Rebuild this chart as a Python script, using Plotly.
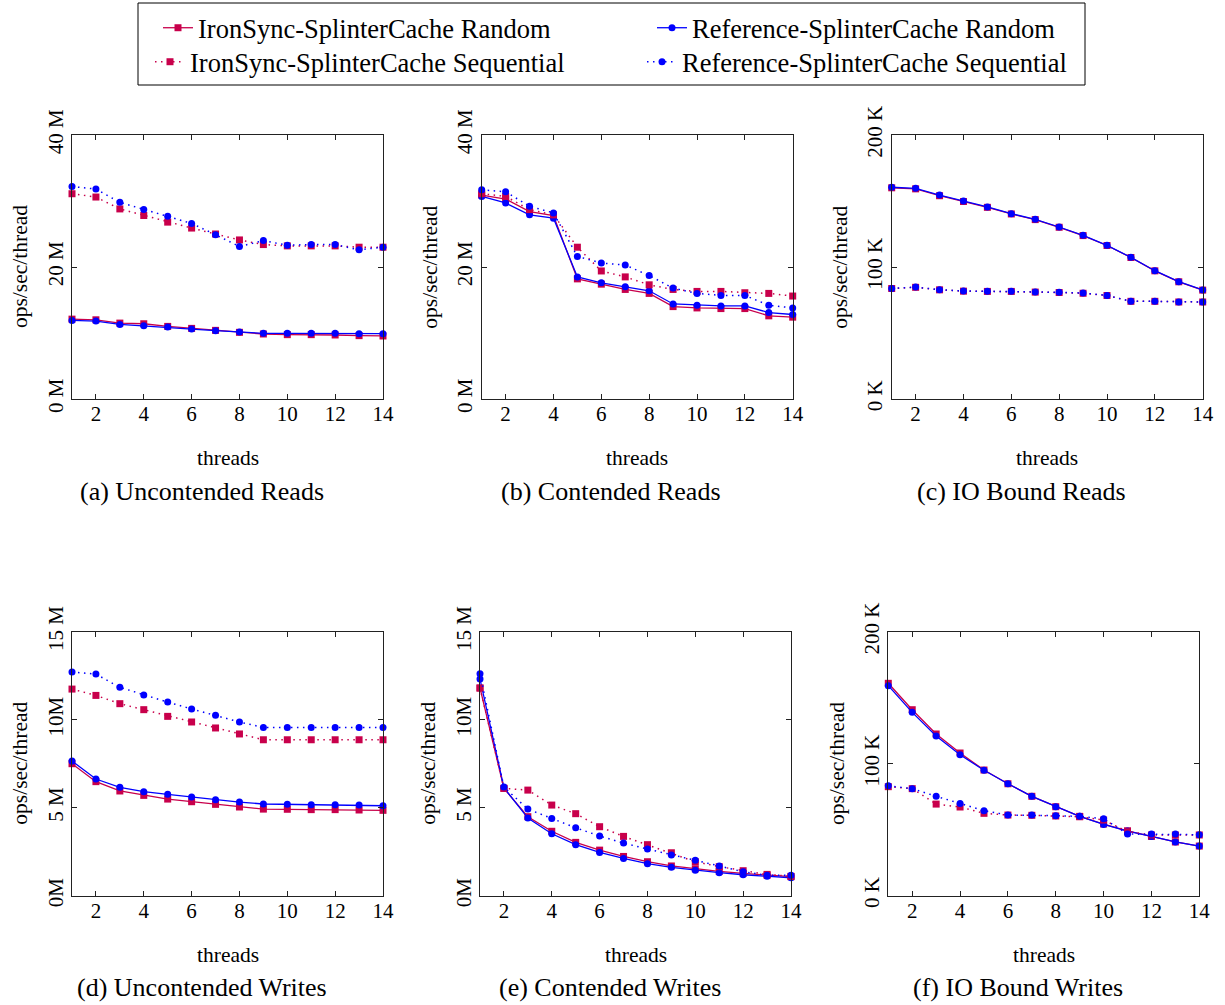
import plotly.graph_objects as go

# ---------------- data ----------------
threads = list(range(1, 15))

series_names = [
    "IronSync-SplinterCache Random",
    "Reference-SplinterCache Random",
    "IronSync-SplinterCache Sequential",
    "Reference-SplinterCache Sequential",
]

# (a) Uncontended Reads  (M ops/sec/thread)
a_iron_rand = [12.1, 12.0, 11.5, 11.4, 11.0, 10.7, 10.4, 10.1, 9.85, 9.75, 9.75, 9.7, 9.6, 9.55]
a_ref_rand = [11.9, 11.8, 11.3, 11.1, 10.9, 10.6, 10.35, 10.15, 9.95, 9.95, 9.95, 9.95, 9.9, 9.9]
a_iron_seq = [31.1, 30.6, 28.8, 27.8, 26.8, 25.9, 25.0, 24.1, 23.4, 23.2, 23.2, 23.2, 23.0, 23.0]
a_ref_seq = [32.2, 31.8, 29.8, 28.7, 27.7, 26.6, 24.9, 23.1, 24.0, 23.3, 23.4, 23.4, 22.6, 23.0]

# (b) Contended Reads  (M ops/sec/thread)
b_iron_rand = [30.9, 30.3, 28.4, 27.8, 18.2, 17.4, 16.6, 16.0, 14.0, 13.8, 13.7, 13.7, 12.6, 12.4]
b_ref_rand = [30.7, 29.7, 27.9, 27.4, 18.5, 17.6, 17.0, 16.4, 14.4, 14.2, 14.1, 14.1, 13.1, 12.8]
b_iron_seq = [31.1, 30.7, 28.7, 27.9, 23.0, 19.4, 18.5, 17.3, 16.6, 16.3, 16.3, 16.1, 16.0, 15.6]
b_ref_seq = [31.7, 31.4, 29.2, 28.2, 21.6, 20.6, 20.3, 18.7, 16.8, 16.0, 15.7, 15.7, 14.2, 13.8]

# (c) IO Bound Reads  (K ops/sec/thread)
c_iron_rand = [160.0, 159.2, 154.0, 149.6, 145.2, 140.2, 135.9, 130.1, 123.8, 116.3, 107.2, 97.1, 88.8, 82.5]
c_ref_rand = [160.4, 159.6, 154.5, 150.0, 145.5, 140.4, 136.1, 130.3, 124.0, 116.4, 107.3, 97.2, 88.9, 82.6]
c_iron_seq = [83.7, 84.6, 82.7, 81.7, 81.5, 81.5, 81.0, 80.7, 80.1, 78.4, 74.0, 74.0, 73.5, 73.5]
c_ref_seq = [83.8, 84.8, 82.8, 81.8, 81.6, 81.6, 81.1, 80.8, 80.3, 78.5, 74.0, 74.0, 73.5, 73.5]

# (d) Uncontended Writes  (M ops/sec/thread)
d_iron_rand = [7.50, 6.48, 5.95, 5.70, 5.49, 5.34, 5.19, 5.04, 4.92, 4.91, 4.89, 4.89, 4.87, 4.85]
d_ref_rand = [7.65, 6.63, 6.16, 5.91, 5.76, 5.61, 5.45, 5.32, 5.21, 5.19, 5.17, 5.17, 5.15, 5.11]
d_iron_seq = [11.74, 11.38, 10.91, 10.57, 10.19, 9.87, 9.53, 9.19, 8.86, 8.86, 8.86, 8.86, 8.86, 8.86]
d_ref_seq = [12.71, 12.59, 11.84, 11.40, 11.00, 10.61, 10.25, 9.87, 9.56, 9.56, 9.56, 9.56, 9.56, 9.56]

# (e) Contended Writes  (M ops/sec/thread)
e_iron_rand = [11.80, 6.10, 4.49, 3.66, 3.03, 2.59, 2.23, 1.93, 1.69, 1.53, 1.38, 1.27, 1.16, 1.08]
e_ref_rand = [12.31, 6.14, 4.41, 3.52, 2.90, 2.46, 2.12, 1.82, 1.61, 1.44, 1.31, 1.19, 1.10, 1.02]
e_iron_seq = [11.80, 6.10, 6.00, 5.15, 4.66, 3.92, 3.37, 2.90, 2.44, 1.93, 1.65, 1.42, 1.21, 1.10]
e_ref_seq = [12.61, 6.17, 4.92, 4.38, 3.86, 3.39, 2.99, 2.65, 2.31, 2.01, 1.69, 1.36, 1.16, 1.16]

# (f) IO Bound Writes  (K ops/sec/thread)
f_iron_rand = [160.9, 140.9, 122.5, 108.1, 95.2, 84.8, 75.3, 67.4, 60.1, 54.3, 49.2, 44.9, 40.7, 37.6]
f_ref_rand = [159.1, 138.9, 121.0, 106.8, 95.0, 84.8, 75.3, 67.4, 60.1, 54.0, 49.0, 44.9, 40.7, 37.6]
f_iron_seq = [82.6, 81.1, 69.4, 67.2, 62.4, 61.1, 60.9, 60.4, 59.8, 57.3, 48.5, 46.0, 46.0, 46.0]
f_ref_seq = [83.3, 81.1, 75.3, 69.9, 64.4, 61.1, 61.1, 60.6, 60.1, 58.3, 46.7, 46.7, 46.7, 46.2]

x_tickvals = [2, 4, 6, 8, 10, 12, 14]
x_ticktext = ["2", "4", "6", "8", "10", "12", "14"]

reads_m_tickvals = [0, 20, 40]
reads_m_ticktext = ["0 M", "20 M", "40 M"]
writes_m_tickvals = [0, 5, 10, 15]
writes_m_ticktext = ["0M", "5 M", "10M", "15 M"]
k_tickvals = [0, 100, 200]
k_ticktext = ["0 K", "100 K", "200 K"]

captions = [
    "(a) Uncontended Reads",
    "(b) Contended Reads",
    "(c) IO Bound Reads",
    "(d) Uncontended Writes",
    "(e) Contended Writes",
    "(f) IO Bound Writes",
]
x_title = "threads"
y_title = "ops/sec/thread"

# ---------------- layout / styling ----------------
W, H = 1225, 1005
FONT = "Liberation Serif, Times New Roman, serif"
RED = "#C8004B"
BLUE = "#0000FF"


def px_x(x):
    return x / W


def px_y(y):
    return 1 - y / H


panels = [
    dict(data=[a_iron_rand, a_ref_rand, a_iron_seq, a_ref_seq], yr=[0, 40],
         tv=reads_m_tickvals, tt=reads_m_ticktext, box=(72, 383, 135, 399)),
    dict(data=[b_iron_rand, b_ref_rand, b_iron_seq, b_ref_seq], yr=[0, 40],
         tv=reads_m_tickvals, tt=reads_m_ticktext, box=(481.7, 792.7, 135, 399)),
    dict(data=[c_iron_rand, c_ref_rand, c_iron_seq, c_ref_seq], yr=[0, 200],
         tv=k_tickvals, tt=k_ticktext, box=(891.7, 1202.7, 135, 399)),
    dict(data=[d_iron_rand, d_ref_rand, d_iron_seq, d_ref_seq], yr=[0, 15],
         tv=writes_m_tickvals, tt=writes_m_ticktext, box=(72, 383, 631.7, 895.7)),
    dict(data=[e_iron_rand, e_ref_rand, e_iron_seq, e_ref_seq], yr=[0, 15],
         tv=writes_m_tickvals, tt=writes_m_ticktext, box=(480, 791, 631.7, 895.7)),
    dict(data=[f_iron_rand, f_ref_rand, f_iron_seq, f_ref_seq], yr=[0, 200],
         tv=k_tickvals, tt=k_ticktext, box=(888.3, 1199.3, 631.7, 895.7)),
]

DOT = "1.5px,4.5px"
styles = [
    dict(color=RED, symbol="square", dash="solid", legend="legend"),
    dict(color=BLUE, symbol="circle", dash="solid", legend="legend2"),
    dict(color=RED, symbol="square", dash=DOT, legend="legend3"),
    dict(color=BLUE, symbol="circle", dash=DOT, legend="legend4"),
]
# legend entry placement: (left x of entry, vertical centre) in pixels
legend_pos = {
    "legend": (158, 28),
    "legend2": (652, 28),
    "legend3": (150, 62),
    "legend4": (642, 62),
}

fig = go.Figure()
annotations = []
layout_axes = {}

for i, p in enumerate(panels):
    n = i + 1
    xa = "x" if n == 1 else f"x{n}"
    ya = "y" if n == 1 else f"y{n}"
    x0, x1, y0, y1 = p["box"]
    for j, vals in enumerate(p["data"]):
        st = styles[j]
        fig.add_trace(go.Scatter(
            x=threads, y=vals, xaxis=xa, yaxis=ya,
            mode="lines+markers", name=series_names[j],
            legendgroup=series_names[j], showlegend=(i == 0),
            legend=st["legend"], cliponaxis=False,
            line=dict(color=st["color"], width=1.3 if st["dash"] == "solid" else 1.5,
                      dash=st["dash"]),
            marker=dict(color=st["color"], symbol=st["symbol"], size=7,
                        line=dict(width=0)),
        ))
    axis_common = dict(showline=True, linecolor="#222222", linewidth=1, mirror="allticks",
                       ticks="inside", ticklen=5, tickcolor="#222222", tickwidth=1,
                       showgrid=False, zeroline=False, automargin=False,
                       tickfont=dict(family=FONT, size=21, color="black"))
    layout_axes["xaxis" if n == 1 else f"xaxis{n}"] = dict(
        axis_common, domain=[px_x(x0), px_x(x1)], range=[1, 14],
        anchor=ya, tickmode="array", tickvals=x_tickvals, ticktext=x_ticktext,
        ticklabelstandoff=-4)
    layout_axes["yaxis" if n == 1 else f"yaxis{n}"] = dict(
        axis_common, domain=[px_y(y1), px_y(y0)], range=p["yr"],
        anchor=xa, tickmode="array", tickvals=p["tv"], ticktext=p["tt"], tickangle=-90)

    cx = (x0 + x1) / 2
    cy = (y0 + y1) / 2
    annotations.append(dict(text=x_title, xref="paper", yref="paper", x=px_x(cx),
                            y=px_y(y1 + 59), xanchor="center", yanchor="middle",
                            showarrow=False, font=dict(family=FONT, size=21.5, color="black")))
    annotations.append(dict(text=y_title, xref="paper", yref="paper", x=px_x(x0 - 52),
                            y=px_y(cy), xanchor="center", yanchor="middle", textangle=-90,
                            showarrow=False, font=dict(family=FONT, size=21.5, color="black")))
    annotations.append(dict(text=captions[i], xref="paper", yref="paper", x=px_x(cx - 26),
                            y=px_y(y1 + 92), xanchor="center", yanchor="middle",
                            showarrow=False, font=dict(family=FONT, size=26, color="black")))

legend_common = dict(xanchor="left", yanchor="middle", orientation="v",
                     bgcolor="rgba(0,0,0,0)", borderwidth=0, tracegroupgap=0,
                     font=dict(family=FONT, size=26.5, color="black"))
legends = {k: dict(legend_common, x=px_x(v[0]), y=px_y(v[1])) for k, v in legend_pos.items()}

fig.update_layout(
    width=W, height=H,
    margin=dict(l=0, r=0, t=0, b=0, autoexpand=False),
    paper_bgcolor="white", plot_bgcolor="white",
    font=dict(family=FONT, color="black"),
    showlegend=True,
    hovermode=False,
    annotations=annotations,
    shapes=[dict(type="rect", xref="paper", yref="paper",
                 x0=px_x(138), x1=px_x(1085), y0=px_y(85), y1=px_y(3),
                 line=dict(color="black", width=1))],
    **legends,
    **layout_axes,
)

fig.write_html(
    "out.html",
    config={"displayModeBar": False},
    post_script="document.body.style.margin='0';document.body.style.overflow='hidden';",
)
